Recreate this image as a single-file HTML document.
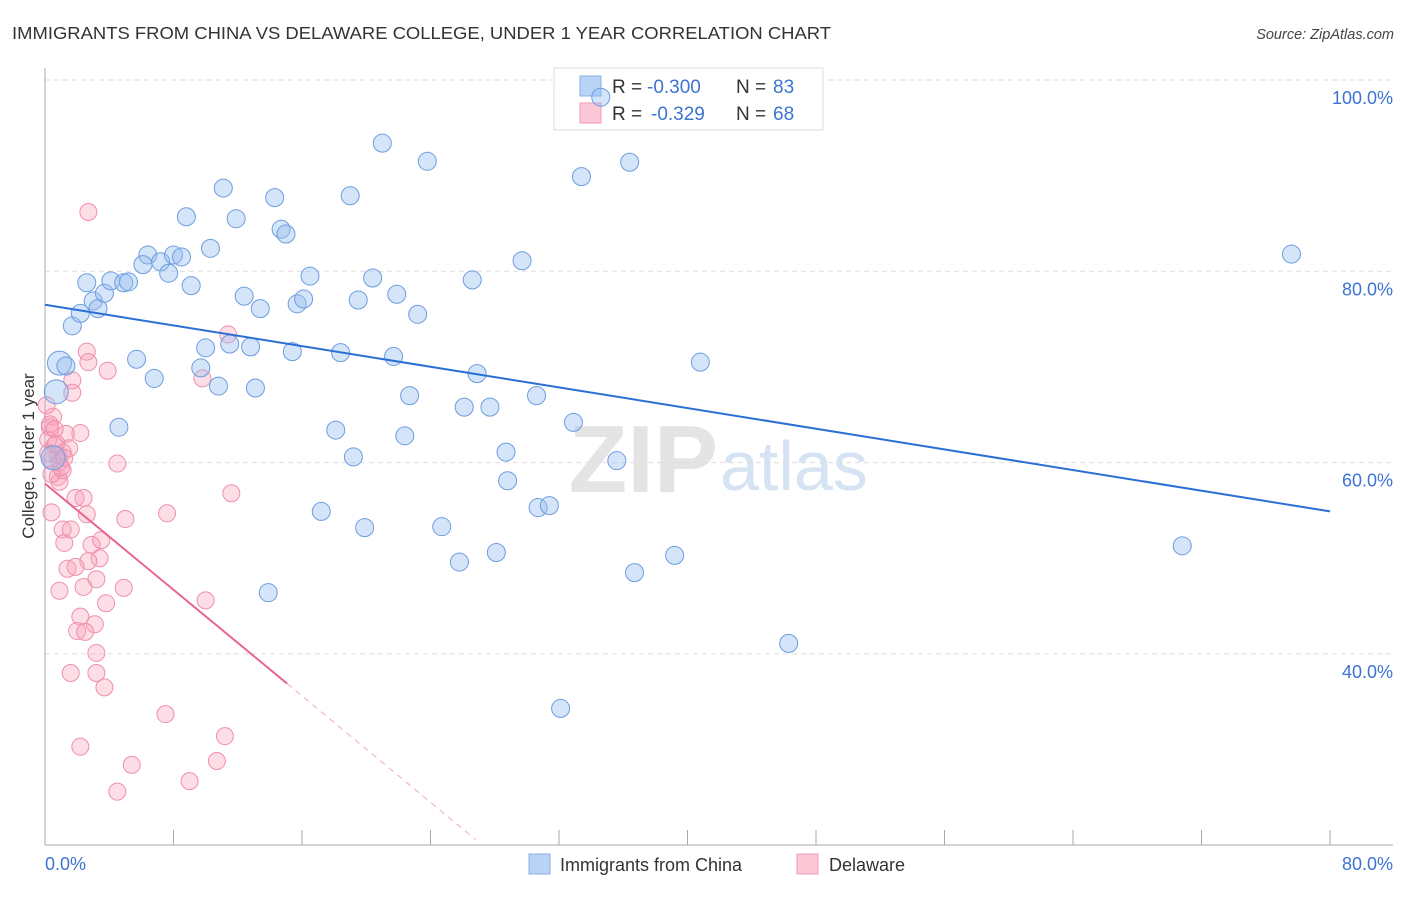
<!DOCTYPE html>
<html><head><meta charset="utf-8"><style>
body{margin:0;background:#fff;font-family:"Liberation Sans",sans-serif}
svg text{font-family:"Liberation Sans",sans-serif}
</style></head><body>
<svg width="1406" height="892" xmlns="http://www.w3.org/2000/svg">
<text x="12" y="39" font-size="17.5" fill="#333" textLength="819" lengthAdjust="spacingAndGlyphs">IMMIGRANTS FROM CHINA VS DELAWARE COLLEGE, UNDER 1 YEAR CORRELATION CHART</text>
<text x="1394" y="39" font-size="14.5" fill="#444" text-anchor="end" font-style="italic">Source: ZipAtlas.com</text>
<text x="718" y="492" font-size="96" fill="#e4e4e4" text-anchor="end" font-family="Liberation Serif" font-weight="bold">ZIP</text>
<text x="720" y="490" font-size="70" fill="#d6e3f3">atlas</text>
<g id="grid"></g><g id="axes"></g>
<g>
<rect x="554" y="68" width="269" height="62" fill="#fff" stroke="#ddd"/>
<rect x="580" y="76" width="21" height="20" fill="#b9d3f5" stroke="#8ab0e6"/>
<rect x="580" y="103" width="21" height="20" fill="#fcc7d6" stroke="#f09ab3"/>
<text x="612" y="93" font-size="19" fill="#333">R =</text>
<text x="647" y="93" font-size="19" fill="#3c74d1">-0.300</text>
<text x="736" y="93" font-size="19" fill="#333">N =</text>
<text x="773" y="93" font-size="19" fill="#3c74d1">83</text>
<text x="612" y="120" font-size="19" fill="#333">R =</text>
<text x="651" y="120" font-size="19" fill="#3c74d1">-0.329</text>
<text x="736" y="120" font-size="19" fill="#333">N =</text>
<text x="773" y="120" font-size="19" fill="#3c74d1">68</text>
</g>
<g id="pts"></g><g id="lines"></g>
<text transform="translate(34,456) rotate(-90)" font-size="17" fill="#333" text-anchor="middle">College, Under 1 year</text>
<g>
<rect x="529" y="854" width="21" height="20" fill="#b9d3f5" stroke="#8ab0e6"/>
<text x="560" y="871" font-size="18" fill="#333">Immigrants from China</text>
<rect x="797" y="854" width="21" height="20" fill="#fcc7d6" stroke="#f09ab3"/>
<text x="829" y="871" font-size="18" fill="#333">Delaware</text>
</g>
</svg>
<script>
const yTicks=[40,60,80,100];
const yTickLabels=["40.0%","60.0%","80.0%","100.0%"];
const xTickLabels=["0.0%","80.0%"];
const chinaX=[0.7,0.9,1.3,1.7,2.2,2.6,3.0,3.3,3.7,4.1,4.9,5.2,4.6,5.7,6.4,6.1,6.8,7.2,7.7,8.0,8.5,8.8,9.1,9.7,10.0,10.3,10.8,11.1,11.5,11.9,12.4,12.8,13.1,13.4,13.9,14.3,14.7,15.0,15.4,15.7,16.1,16.5,17.2,18.1,18.4,19.0,19.2,19.5,19.9,20.4,21.0,21.7,21.9,22.4,22.7,23.2,23.8,24.7,25.8,26.1,26.6,26.9,27.7,28.1,28.7,28.8,29.7,30.6,30.7,31.4,32.1,32.9,33.4,34.6,35.6,36.4,36.7,39.2,40.8,46.3,70.8,77.6,0.5];
const chinaY=[67.4,70.4,70.1,74.3,75.6,78.8,76.9,76.1,77.7,79.0,78.8,78.9,63.7,70.8,81.7,80.7,68.8,81.0,79.8,81.7,81.5,85.7,78.5,69.9,72.0,82.4,68.0,88.7,72.4,85.5,77.4,72.1,67.8,76.1,46.4,87.7,84.4,83.9,71.6,76.6,77.1,79.5,54.9,63.4,71.5,87.9,60.6,77.0,53.2,79.3,93.4,71.1,77.6,62.8,67.0,75.5,91.5,53.3,49.6,65.8,79.1,69.3,65.8,50.6,61.1,58.1,81.1,67.0,55.3,55.5,34.3,64.2,89.9,98.2,60.2,91.4,48.5,50.3,70.5,41.1,51.3,81.8,60.5];
const chinaR=[12,12,9,9,9,9,9,9,9,9,9,9,9,9,9,9,9,9,9,9,9,9,9,9,9,9,9,9,9,9,9,9,9,9,9,9,9,9,9,9,9,9,9,9,9,9,9,9,9,9,9,9,9,9,9,9,9,9,9,9,9,9,9,9,9,9,9,9,9,9,9,9,9,9,9,9,9,9,9,9,9,9,12];
const delX=[2.7,11.4,9.8,2.6,2.7,3.9,1.7,1.7,0.5,0.3,1.3,2.2,1.1,0.8,0.9,4.5,1.9,2.4,0.4,2.6,5.0,7.6,11.6,1.1,1.6,1.2,2.9,3.5,3.4,2.7,1.4,1.9,3.2,2.4,0.9,4.9,3.8,10.0,2.2,3.1,2.0,2.5,3.2,1.6,3.2,3.7,7.5,11.2,2.2,5.4,10.7,9.0,4.5,0.2,0.6,0.8,0.4,1.1,0.1,0.3,0.9,1.5,0.6,0.2,1.0,0.7,1.2,0.4];
const delY=[86.2,73.4,68.8,71.6,70.5,69.6,68.6,67.3,64.8,63.7,63.0,63.1,61.1,58.5,58.0,59.9,56.3,56.3,54.8,54.6,54.1,54.7,56.8,53.0,53.0,51.6,51.4,51.9,50.0,49.7,48.9,49.1,47.8,47.0,46.6,46.9,45.3,45.6,43.9,43.1,42.4,42.3,40.1,38.0,38.0,36.5,33.7,31.4,30.3,28.4,28.8,26.7,25.6,62.4,61.8,60.8,60.3,59.2,66.0,64.0,60.0,61.5,63.5,61.0,59.5,62.0,60.5,58.8];
const chinaTrend=[[0,76.5],[80,54.9]];
const delTrend=[[0,57.8],[15.07,36.9]];
const delTrendDash=[[15.07,36.9],[26.8,20.6]];
const NS="http://www.w3.org/2000/svg";
const X=v=>45+v/80*1285, Y=v=>80+(100-v)*9.565;
function mk(t,a,p){const e=document.createElementNS(NS,t);for(const k in a)e.setAttribute(k,a[k]);p.appendChild(e);return e;}
const g=document.getElementById('grid');
yTicks.forEach((t,i)=>{const l=mk('line',{x1:45,x2:1393,y1:Y(t),y2:Y(t),stroke:'#ddd','stroke-dasharray':'5,4'},g);


const tx=mk('text',{x:1393,y:Y(t)+24,'font-size':18,fill:'#3c74d1','text-anchor':'end'},g);tx.textContent=yTickLabels[i];

});
const ax=document.getElementById('axes');
const la=mk('line',{x1:45,x2:45,y1:68,y2:845,stroke:'#aaa'},ax);


const lb=mk('line',{x1:45,x2:1393,y1:845,y2:845,stroke:'#aaa'},ax);


for(let i=0;i<=10;i++){const t=mk('line',{x1:X(i*8),x2:X(i*8),y1:830,y2:845,stroke:'#aaa'},ax);

}
[[0,'start',45],[80,'end',1393]].forEach((d,i)=>{const t=mk('text',{x:d[2],y:870,'font-size':18,fill:'#3c74d1','text-anchor':d[1]},ax);t.textContent=xTickLabels[i];

});
const p=document.getElementById('pts');
delX.forEach((x,i)=>{const c=mk('circle',{cx:X(x),cy:Y(delY[i]),r:8.5,fill:'rgba(248,160,185,0.35)',stroke:'#ef8fab','stroke-width':1},p);

});
chinaX.forEach((x,i)=>{const c=mk('circle',{cx:X(x),cy:Y(chinaY[i]),r:chinaR[i],fill:'rgba(150,190,240,0.4)',stroke:'#6d9ce0','stroke-width':1},p);

});
const L=document.getElementById('lines');
const t1=mk('line',{x1:X(chinaTrend[0][0]),y1:Y(chinaTrend[0][1]),x2:X(chinaTrend[1][0]),y2:Y(chinaTrend[1][1]),stroke:'#2a6fd6','stroke-width':2},L);


const t2=mk('line',{x1:X(delTrend[0][0]),y1:Y(delTrend[0][1]),x2:X(delTrend[1][0]),y2:Y(delTrend[1][1]),stroke:'#e8658f','stroke-width':2},L);


const t3=mk('line',{x1:X(delTrendDash[0][0]),y1:Y(delTrendDash[0][1]),x2:X(delTrendDash[1][0]),y2:Y(delTrendDash[1][1]),stroke:'#eeaac0','stroke-width':1,'stroke-dasharray':'6,5'},L);


</script>
</body></html>
